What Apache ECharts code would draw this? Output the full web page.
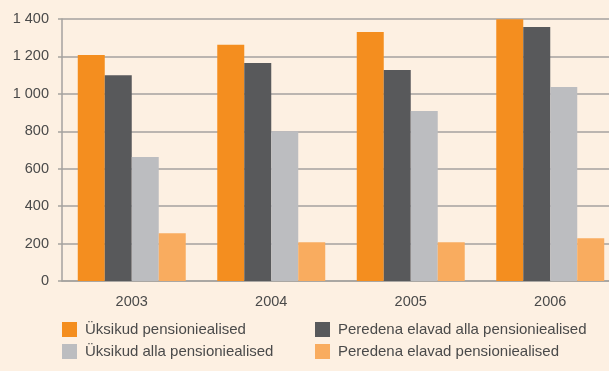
<!DOCTYPE html>
<html>
<head>
<meta charset="utf-8">
<script src="https://cdn.jsdelivr.net/npm/echarts@6/dist/echarts.min.js"></script>
<style>
  html, body { margin: 0; padding: 0; background: #fdf0e2; overflow: hidden; }
  /* the plot runs a little past the right edge of the page */
  #chart { width: 620px; height: 371px; }
</style>
</head>
<body>
<div id="chart"></div>
<script>
// Years on the category axis
const years = ['2003', '2004', '2005', '2006'];

// Series names (legend order)
const nameSingleRetired = 'Üksikud pensioniealised';
const nameFamilyWorking = 'Peredena elavad alla pensioniealised';
const nameSingleWorking = 'Üksikud alla pensioniealised';
const nameFamilyRetired = 'Peredena elavad pensioniealised';

// Values per year
const singleRetired = [1208, 1262, 1330, 1398];
const familyWorking = [1100, 1165, 1127, 1357];
const singleWorking = [662, 800, 908, 1036];
const familyRetired = [255, 207, 207, 228];

// Value axis ticks
const yTicks = [0, 200, 400, 600, 800, 1000, 1200, 1400];

const colors = {
  singleRetired: '#f48e1f',
  familyWorking: '#58595b',
  singleWorking: '#bcbdc0',
  familyRetired: '#f9ac5f'
};

const font = "'Liberation Sans', Arial, sans-serif";
const textColor = '#4a4a4a';

const chart = echarts.init(document.getElementById('chart'), null, { renderer: 'canvas' });

function bar(name, data, color) {
  return {
    name: name,
    type: 'bar',
    data: data,
    barGap: '0%',
    barCategoryGap: '22.6%',
    itemStyle: { color: color },
    emphasis: { disabled: true }
  };
}

const legendText = { fontFamily: font, fontSize: 15, color: textColor, padding: [0, 0, 0, 3] };

chart.setOption({
  backgroundColor: '#fdf0e2',
  animation: false,
  textStyle: { fontFamily: font },
  grid: { left: 62, right: 0, top: 19, bottom: 90, containLabel: false },
  legend: [
    {
      orient: 'vertical',
      left: 62, top: 322, padding: 0,
      itemWidth: 15, itemHeight: 15, itemGap: 7,
      icon: 'rect',
      selectedMode: false,
      textStyle: legendText,
      data: [nameSingleRetired, nameSingleWorking]
    },
    {
      orient: 'vertical',
      left: 315, top: 322, padding: 0,
      itemWidth: 15, itemHeight: 15, itemGap: 7,
      icon: 'rect',
      selectedMode: false,
      textStyle: legendText,
      data: [nameFamilyWorking, nameFamilyRetired]
    }
  ],
  xAxis: {
    type: 'category',
    data: years,
    axisLine: { show: true, lineStyle: { color: '#a5a29f', width: 1.5 } },
    axisTick: { show: false },
    axisLabel: { color: textColor, fontSize: 14.5, fontFamily: font, margin: 13 }
  },
  yAxis: {
    type: 'value',
    min: yTicks[0],
    max: yTicks[yTicks.length - 1],
    interval: 200,
    axisLine: { show: true, lineStyle: { color: '#a5a29f', width: 1.5 } },
    axisTick: { show: true, inside: false, length: 4, lineStyle: { color: '#a5a29f', width: 1.5 } },
    splitLine: { show: true, lineStyle: { color: '#a5a29f', width: 1.5 } },
    axisLabel: {
      color: textColor, fontSize: 14.5, fontFamily: font, margin: 13,
      formatter: function (v) {
        return v >= 1000 ? Math.floor(v / 1000) + ' ' + String(v % 1000).padStart(3, '0') : String(v);
      }
    }
  },
  series: [
    bar(nameSingleRetired, singleRetired, colors.singleRetired),
    bar(nameFamilyWorking, familyWorking, colors.familyWorking),
    bar(nameSingleWorking, singleWorking, colors.singleWorking),
    bar(nameFamilyRetired, familyRetired, colors.familyRetired)
  ]
});
</script>
</body>
</html>
